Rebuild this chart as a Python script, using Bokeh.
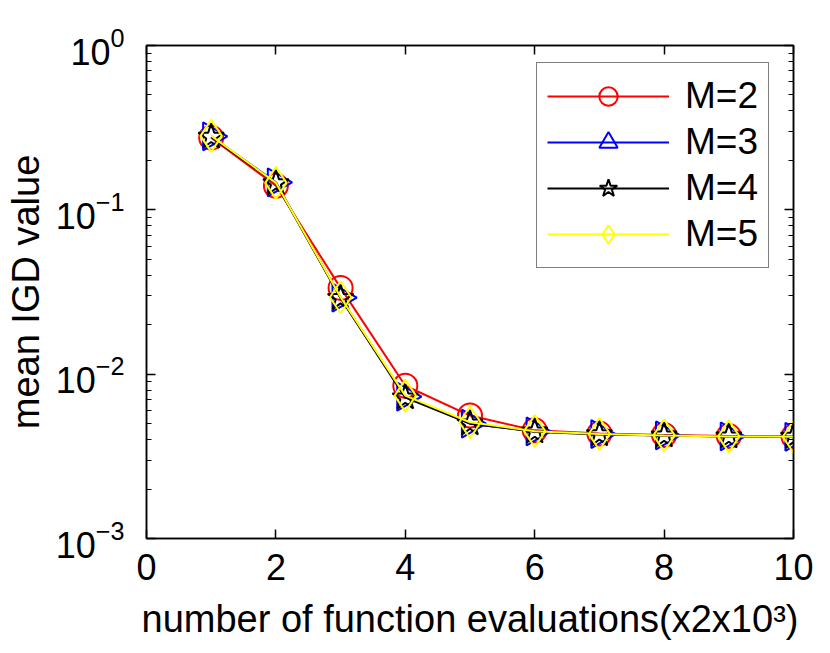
from bokeh.plotting import figure
from bokeh.models import (Range1d, LinearAxis, LogAxis, FixedTicker, LogTicker,
                          Legend, LegendItem, CustomJSTickFormatter)
from bokeh.embed import file_html
from bokeh.resources import INLINE

# ---- data ----
evals = [1, 2, 3, 4, 5, 6, 7, 8, 9, 10]
igd_m2 = [0.275, 0.140, 0.0335, 0.0085, 0.0056, 0.00455, 0.00435, 0.00427, 0.0042, 0.00418]
igd_m3 = [0.280, 0.147, 0.0292, 0.0073, 0.0050, 0.00448, 0.00432, 0.00424, 0.00418, 0.00416]
igd_m4 = [0.278, 0.145, 0.0290, 0.0072, 0.0050, 0.00447, 0.00430, 0.00423, 0.00417, 0.00415]
igd_m5 = [0.282, 0.146, 0.0294, 0.0074, 0.0051, 0.00450, 0.00432, 0.00424, 0.00418, 0.00416]
labels = ["M=2", "M=3", "M=4", "M=5"]
x_ticks = [0, 2, 4, 6, 8, 10]

FONT = "Liberation Sans"

p = figure(width=814, height=653, output_backend="svg", toolbar_location=None,
           y_axis_type="log", x_range=Range1d(0, 10), y_range=Range1d(1e-3, 1),
           min_border_left=146, min_border_top=45, min_border_right=21,
           min_border_bottom=115)
p.grid.visible = False
p.outline_line_color = "black"
p.outline_line_width = 1.5
p.background_fill_color = "white"
p.border_fill_color = "white"

def style_axis(ax):
    ax.axis_line_color = "black"
    ax.axis_line_width = 1.5
    ax.major_tick_in = 9
    ax.major_tick_out = 0
    ax.minor_tick_in = 5
    ax.minor_tick_out = 0
    ax.major_tick_line_width = 1.5
    ax.minor_tick_line_width = 1.2
    ax.major_label_text_font = FONT
    ax.major_label_text_font_size = "36px"
    ax.major_label_text_color = "black"
    ax.axis_label_text_font = FONT
    ax.axis_label_text_font_size = "38px"
    ax.axis_label_text_font_style = "normal"
    ax.axis_label_text_color = "black"

xa = p.xaxis[0]
xa.ticker = FixedTicker(ticks=x_ticks, minor_ticks=[])
xa.axis_label = "number of function evaluations(x2x10\u00b3)"
style_axis(xa)
xa.major_label_standoff = 15
xa.axis_label_standoff = 15

ya = p.yaxis[0]
ya.ticker = LogTicker(num_minor_ticks=10)
ya.axis_label = "mean IGD value"
style_axis(ya)
ya.major_label_standoff = 22
ya.axis_label_standoff = 6

blank = CustomJSTickFormatter(code="return ''")
top = LinearAxis(ticker=FixedTicker(ticks=x_ticks, minor_ticks=[]), formatter=blank)
style_axis(top)
top.major_label_standoff = 0
p.add_layout(top, "above")
right = LogAxis(ticker=LogTicker(num_minor_ticks=10),
                formatter=CustomJSTickFormatter(code="return ''"))
style_axis(right)
right.major_label_standoff = 0
p.add_layout(right, "right")

series = [
    (igd_m2, "red", "circle", 24, 0.0),
    (igd_m3, "blue", "triangle", 28, -1.5707963),
    (igd_m4, "black", "star", 27, 0.0),
    (igd_m5, "yellow", "diamond", 32, 0.0),
]
items = []
for (vals, col, mk, sz, ang), lab in zip(series, labels):
    ln = p.line(evals, vals, line_color=col, line_width=2)
    sc = p.scatter(evals, vals, marker=mk, size=sz, angle=ang,
                   line_color=col, fill_color=None, line_width=2)
    items.append(LegendItem(label=lab, renderers=[ln, sc]))

legend = Legend(items=items, location=(390, 270), margin=0,
                padding=10, spacing=0, glyph_width=122, glyph_height=46,
                label_height=40, label_standoff=16,
                label_text_font=FONT, label_text_font_size="37px",
                label_text_color="black",
                border_line_color="black", border_line_width=1.5,
                background_fill_color="white", background_fill_alpha=1.0)
p.add_layout(legend, "center")

open("out.html", "w").write(file_html(p, INLINE))
